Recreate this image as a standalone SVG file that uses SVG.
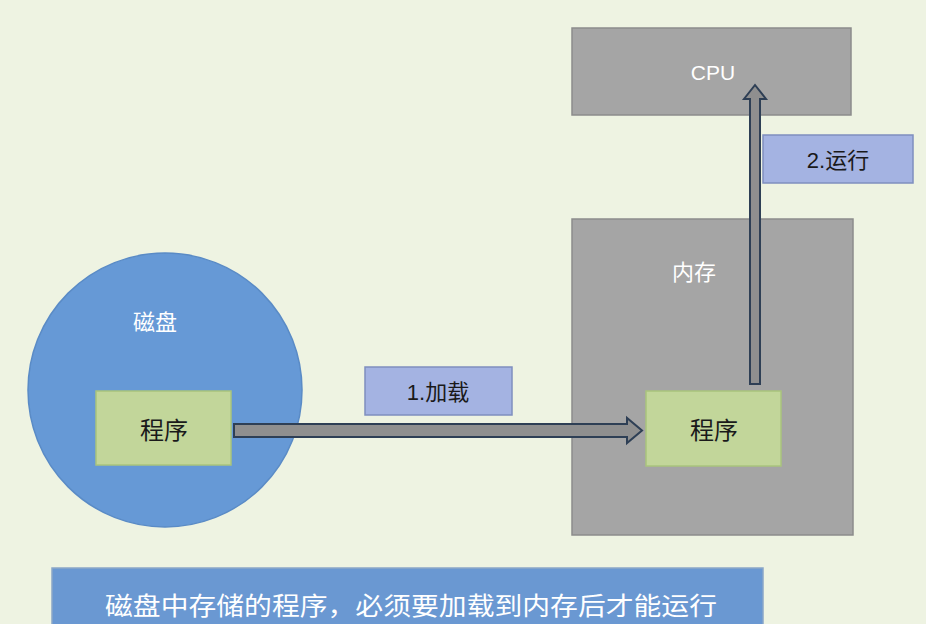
<svg xmlns="http://www.w3.org/2000/svg" width="926" height="624" viewBox="0 0 926 624">
<style>
.gray{fill:#a5a5a5;stroke:#8c8c8c;stroke-width:1.5}
.prog{fill:#c2d69a;stroke:#a9c47c;stroke-width:1.5}
.lbl{fill:#a4b3e2;stroke:#7f8fbf;stroke-width:1.5}
.wt{font-family:"Liberation Sans","Noto Sans CJK SC",sans-serif;fill:#ffffff}
.bt{font-family:"Liberation Sans","Noto Sans CJK SC",sans-serif;fill:#1a1a1a}
.arr{fill:#8f8f8f;stroke:#2e3f55;stroke-width:2;stroke-linejoin:miter}
</style>
<rect x="0" y="0" width="926" height="624" fill="#eef3e2"/>
<g id="cpu">
<rect class="gray" x="572" y="28" width="279" height="87"/>
<text class="wt" x="713" y="80" font-size="21" text-anchor="middle">CPU</text>
</g>
<g id="memory">
<rect class="gray" x="572" y="219" width="281" height="316"/>
<text class="wt" x="694" y="280" font-size="22" text-anchor="middle">内存</text>
</g>
<g id="disk">
<circle cx="165" cy="390" r="137" fill="#6699d6" stroke="#5a8bc6" stroke-width="1.5"/>
<text class="wt" x="155" y="330" font-size="22" text-anchor="middle">磁盘</text>
</g>
<g id="program-disk">
<rect class="prog" x="96" y="391" width="135" height="74"/>
<text class="bt" x="164" y="439" font-size="24" text-anchor="middle">程序</text>
</g>
<g id="program-memory">
<rect class="prog" x="646" y="391" width="135" height="75"/>
<text class="bt" x="714" y="439" font-size="24" text-anchor="middle">程序</text>
</g>
<g id="connectors">
<path class="arr" d="M234,424 L627,424 L627,418 L642,430.5 L627,443 L627,437 L234,437 Z"/>
<path class="arr" d="M750,384 L750,99 L744,99 L755,85 L766,99 L760,99 L760,384 Z"/>
</g>
<g id="label-load">
<rect class="lbl" x="365" y="367" width="147" height="48"/>
<text class="bt" x="438" y="400" font-size="22" text-anchor="middle" fill="#1f2540">1.加载</text>
</g>
<g id="label-run">
<rect class="lbl" x="763" y="135" width="150" height="48"/>
<text class="bt" x="838" y="168" font-size="22" text-anchor="middle">2.运行</text>
</g>
<g id="caption">
<rect x="52" y="568" width="711" height="60" fill="#6a98d2" stroke="#8aa6c8" stroke-width="1.5"/>
<text class="wt" x="105" y="615" font-size="25" textLength="612" lengthAdjust="spacingAndGlyphs">磁盘中存储的程序，必须要加载到内存后才能运行</text>
</g>
</svg>
